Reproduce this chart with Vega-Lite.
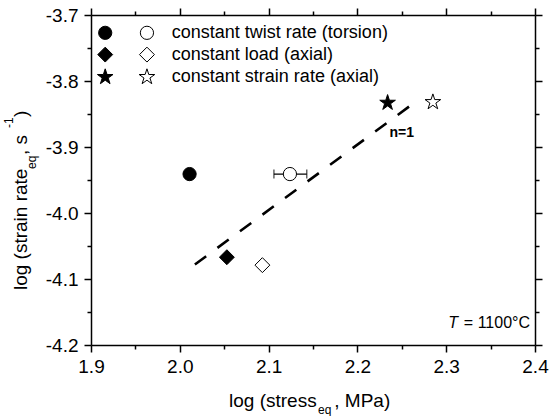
{
  "$schema": "https://vega.github.io/schema/vega-lite/v6.json",
  "width": 444,
  "height": 330,
  "autosize": {"type": "none"},
  "padding": {"left": 91, "top": 15, "right": 15, "bottom": 71},
  "config": {"font": "Liberation Sans", "view": {"stroke": null}},
  "datasets": {
    "points": [
      {"x": 2.011, "y": -3.941, "kind": "circle", "fill": "filled"},
      {"x": 2.124, "y": -3.941, "kind": "circle", "fill": "open"},
      {"x": 2.053, "y": -4.067, "kind": "diamond", "fill": "filled"},
      {"x": 2.093, "y": -4.079, "kind": "diamond", "fill": "open"},
      {"x": 2.234, "y": -3.833, "kind": "star", "fill": "filled"},
      {"x": 2.285, "y": -3.832, "kind": "star", "fill": "open"}
    ],
    "legendSymbols": [
      {"x": 1.916, "y": -3.727, "kind": "circle", "fill": "filled"},
      {"x": 1.963, "y": -3.727, "kind": "circle", "fill": "open"},
      {"x": 1.916, "y": -3.760, "kind": "diamond", "fill": "filled"},
      {"x": 1.963, "y": -3.760, "kind": "diamond", "fill": "open"},
      {"x": 1.916, "y": -3.794, "kind": "star", "fill": "filled"},
      {"x": 1.963, "y": -3.794, "kind": "star", "fill": "open"}
    ],
    "legendLabels": [
      {"x": 1.991, "y": -3.727, "label": "constant twist rate (torsion)"},
      {"x": 1.991, "y": -3.760, "label": "constant load (axial)"},
      {"x": 1.991, "y": -3.794, "label": "constant strain rate (axial)"}
    ],
    "errors": [{"y": -3.941, "lo": 2.106, "hi": 2.143}],
    "fit": [{"x": 2.017, "y": -4.078}, {"x": 2.266, "y": -3.831}]
  },
  "layer": [
    {
      "data": {"name": "fit"},
      "mark": {"type": "line", "color": "black", "strokeWidth": 2.6, "strokeDash": [14, 14]},
      "encoding": {
        "x": {"field": "x", "type": "quantitative",
          "scale": {"domain": [1.9, 2.4], "nice": false, "zero": false},
          "axis": {"orient": "bottom", "title": null,
            "values": [1.9, 1.95, 2.0, 2.05, 2.1, 2.15, 2.2, 2.25, 2.3, 2.35, 2.4],
            "labelExpr": "abs(datum.value*10-round(datum.value*10))<0.01 ? replace(format(datum.value,'.1f'),'\u2212','-') : ''",
            "tickSize": {"condition": {"test": "abs(datum.value*10-round(datum.value*10))<0.01", "value": 7}, "value": 4},
            "domainColor": "black", "domainWidth": 1.5, "tickColor": "black", "tickWidth": 1.5,
            "grid": false, "labelFont": "Liberation Sans", "labelFontSize": 19, "labelColor": "black",
            "labelPadding": 5, "labelFlush": false, "labelOverlap": false}},
        "y": {"field": "y", "type": "quantitative",
          "scale": {"domain": [-4.2, -3.7], "nice": false, "zero": false},
          "axis": {"orient": "left", "title": null,
            "values": [-4.2, -4.15, -4.1, -4.05, -4.0, -3.95, -3.9, -3.85, -3.8, -3.75, -3.7],
            "labelExpr": "abs(datum.value*10-round(datum.value*10))<0.01 ? replace(format(datum.value,'.1f'),'\u2212','-') : ''",
            "tickSize": {"condition": {"test": "abs(datum.value*10-round(datum.value*10))<0.01", "value": 7}, "value": 4},
            "domainColor": "black", "domainWidth": 1.5, "tickColor": "black", "tickWidth": 1.5,
            "grid": false, "labelFont": "Liberation Sans", "labelFontSize": 19, "labelColor": "black",
            "labelPadding": 6, "labelFlush": false, "labelOverlap": false}}
      }
    },
    {
      "data": {"name": "fit"},
      "mark": {"type": "point", "opacity": 0},
      "encoding": {
        "x": {"field": "x", "type": "quantitative",
          "axis": {"orient": "top", "title": null, "labels": false,
            "values": [1.9, 1.95, 2.0, 2.05, 2.1, 2.15, 2.2, 2.25, 2.3, 2.35, 2.4],
            "tickSize": {"condition": {"test": "abs(datum.value*10-round(datum.value*10))<0.01", "value": 7}, "value": 4},
            "domainColor": "black", "domainWidth": 1.5, "tickColor": "black", "tickWidth": 1.5, "grid": false}},
        "y": {"field": "y", "type": "quantitative",
          "axis": {"orient": "right", "title": null, "labels": false,
            "values": [-4.2, -4.15, -4.1, -4.05, -4.0, -3.95, -3.9, -3.85, -3.8, -3.75, -3.7],
            "tickSize": {"condition": {"test": "abs(datum.value*10-round(datum.value*10))<0.01", "value": 7}, "value": 4},
            "domainColor": "black", "domainWidth": 1.5, "tickColor": "black", "tickWidth": 1.5, "grid": false}}
      }
    },
    {
      "data": {"name": "errors"},
      "mark": {"type": "errorbar", "ticks": {"size": 9, "thickness": 1.3, "color": "black"}, "rule": {"strokeWidth": 1.3, "color": "black"}},
      "encoding": {
        "x": {"field": "lo", "type": "quantitative", "axis": null},
        "x2": {"field": "hi"},
        "y": {"field": "y", "type": "quantitative", "axis": null}
      }
    },
    {
      "data": {"name": "points"},
      "mark": {"type": "point", "filled": false, "stroke": "black", "strokeWidth": 1, "opacity": 1},
      "encoding": {
        "x": {"field": "x", "type": "quantitative", "axis": null},
        "y": {"field": "y", "type": "quantitative", "axis": null},
        "shape": {"field": "kind", "type": "nominal", "legend": null,
          "scale": {"domain": ["circle", "diamond", "star"],
            "range": ["circle", "diamond", "M0,-1L0.2245,-0.309L0.9511,-0.309L0.3633,0.118L0.5878,0.809L0,0.382L-0.5878,0.809L-0.3633,0.118L-0.9511,-0.309L-0.2245,-0.309Z"]}},
        "size": {"field": "kind", "type": "nominal", "legend": null,
          "scale": {"domain": ["circle", "diamond", "star"], "range": [175, 270, 260]}},
        "fill": {"field": "fill", "type": "nominal", "legend": null,
          "scale": {"domain": ["filled", "open"], "range": ["black", "white"]}}
      }
    },
    {
      "data": {"name": "legendSymbols"},
      "mark": {"type": "point", "filled": false, "stroke": "black", "strokeWidth": 1, "opacity": 1},
      "encoding": {
        "x": {"field": "x", "type": "quantitative", "axis": null},
        "y": {"field": "y", "type": "quantitative", "axis": null},
        "shape": {"field": "kind", "type": "nominal", "legend": null},
        "size": {"field": "kind", "type": "nominal", "legend": null},
        "fill": {"field": "fill", "type": "nominal", "legend": null}
      }
    },
    {
      "data": {"name": "legendLabels"},
      "mark": {"type": "text", "align": "left", "baseline": "middle", "fontSize": 18, "color": "black"},
      "encoding": {
        "x": {"field": "x", "type": "quantitative", "axis": null},
        "y": {"field": "y", "type": "quantitative", "axis": null},
        "text": {"field": "label"}
      }
    },
    {
      "data": {"values": [{"x": 2.250, "y": -3.879, "label": "n=1"}]},
      "mark": {"type": "text", "align": "center", "baseline": "middle", "fontSize": 14, "fontWeight": "bold", "color": "black"},
      "encoding": {
        "x": {"field": "x", "type": "quantitative", "axis": null},
        "y": {"field": "y", "type": "quantitative", "axis": null},
        "text": {"field": "label"}
      }
    },
    {
      "data": {"values": [{"x": 2.3133, "y": -4.174, "label": "T"}]},
      "mark": {"type": "text", "align": "right", "baseline": "alphabetic", "fontSize": 16, "fontStyle": "italic", "color": "black"},
      "encoding": {
        "x": {"field": "x", "type": "quantitative", "axis": null},
        "y": {"field": "y", "type": "quantitative", "axis": null},
        "text": {"field": "label"}
      }
    },
    {
      "data": {"values": [{"x": 2.3944, "y": -4.174, "label": "= 1100°C"}]},
      "mark": {"type": "text", "align": "right", "baseline": "alphabetic", "fontSize": 16, "color": "black"},
      "encoding": {
        "x": {"field": "x", "type": "quantitative", "axis": null},
        "y": {"field": "y", "type": "quantitative", "axis": null},
        "text": {"field": "label"}
      }
    },
    {
      "data": {"values": [
        {"x": 2.0554, "y": -4.2939, "label": "log (stress"},
        {"x": 2.1740, "y": -4.2939, "label": ", MPa)"}
      ]},
      "mark": {"type": "text", "align": "left", "baseline": "alphabetic", "fontSize": 19, "color": "black"},
      "encoding": {
        "x": {"field": "x", "type": "quantitative", "axis": null},
        "y": {"field": "y", "type": "quantitative", "axis": null},
        "text": {"field": "label"}
      }
    },
    {
      "data": {"values": [{"x": 2.1556, "y": -4.3045, "label": "eq"}]},
      "mark": {"type": "text", "align": "left", "baseline": "alphabetic", "fontSize": 12, "color": "black"},
      "encoding": {
        "x": {"field": "x", "type": "quantitative", "axis": null},
        "y": {"field": "y", "type": "quantitative", "axis": null},
        "text": {"field": "label"}
      }
    },
    {
      "data": {"values": [
        {"x": 1.8212, "y": -4.1167, "label": "log (strain rate"},
        {"x": 1.8212, "y": -3.9121, "label": ", s"},
        {"x": 1.8212, "y": -3.8545, "label": ")"}
      ]},
      "mark": {"type": "text", "align": "left", "baseline": "middle", "angle": 270, "fontSize": 19, "color": "black"},
      "encoding": {
        "x": {"field": "x", "type": "quantitative", "axis": null},
        "y": {"field": "y", "type": "quantitative", "axis": null},
        "text": {"field": "label"}
      }
    },
    {
      "data": {"values": [
        {"x": 1.8336, "y": -3.9333, "label": "eq"},
        {"x": 1.8077, "y": -3.8712, "label": "-1"}
      ]},
      "mark": {"type": "text", "align": "left", "baseline": "middle", "angle": 270, "fontSize": 12, "color": "black"},
      "encoding": {
        "x": {"field": "x", "type": "quantitative", "axis": null},
        "y": {"field": "y", "type": "quantitative", "axis": null},
        "text": {"field": "label"}
      }
    }
  ],
  "resolve": {"axis": {"x": "independent", "y": "independent"}}
}
